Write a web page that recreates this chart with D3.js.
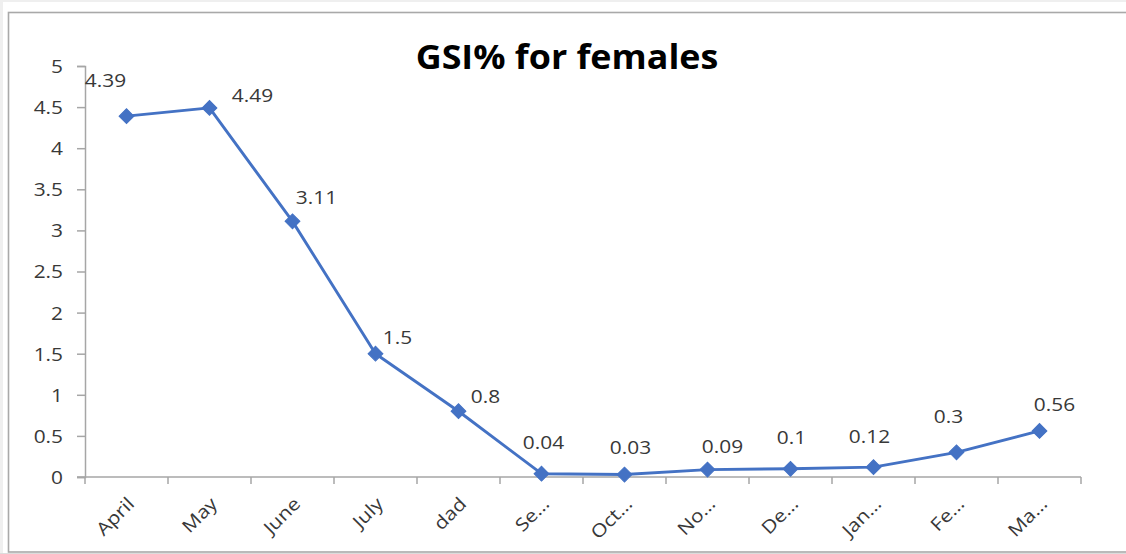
<!DOCTYPE html>
<html>
<head>
<meta charset="utf-8">
<script src="https://cdn.jsdelivr.net/npm/d3@7"></script>
<style>
  html, body { margin: 0; padding: 0; background: #ffffff; }
  svg { display: block; }
  text { font-family: "Open Sans", "Noto Sans", sans-serif; }
</style>
</head>
<body>
<svg id="chart" width="1126" height="554"></svg>
<script>
// Monthly GSI% values for females
const months = ["April", "May", "June", "July", "dad", "Se…", "Oct…", "No…", "De…", "Jan…", "Fe…", "Ma…"];
const gsiValues = [4.39, 4.49, 3.11, 1.5, 0.8, 0.04, 0.03, 0.09, 0.1, 0.12, 0.3, 0.56];
const yTicks = [0, 0.5, 1, 1.5, 2, 2.5, 3, 3.5, 4, 4.5, 5];
const chartTitle = "GSI% for females";
// hand-placed offsets of each value label from its point (dx, dy in px)
const labelNudge = [[-21, -29], [43, -6], [24, -17], [22, -10], [27, -8], [2, -25],
                    [6, -21], [15, -17], [1, -25], [-4, -24], [-8, -29], [15, -20]];

const W = 1126, H = 554;
const svg = d3.select("#chart");
const widen = 1.16;   // labels are drawn slightly wide

// page background and chart frame
svg.append("rect").attr("width", W).attr("height", H).attr("fill", "#efefef");
svg.append("rect").attr("x", 3).attr("y", 2).attr("width", W).attr("height", H).attr("fill", "#ffffff");
svg.append("rect").attr("x", 8.5).attr("y", 12.5).attr("width", W + 10).attr("height", 539.5)
  .attr("fill", "#ffffff").attr("stroke", "#a9a9a9").attr("stroke-width", 1.6);
svg.append("rect").attr("x", 0).attr("y", 553).attr("width", W).attr("height", 1).attr("fill", "#dcdcdc");

const plot = { left: 85, right: 1081, top: 66, bottom: 477 };

const x = d3.scaleBand().domain(months).range([plot.left, plot.right]);
const y = d3.scaleLinear().domain([0, 5]).range([plot.bottom, plot.top]);
const cx = m => x(m) + x.bandwidth() / 2;

const axisColor = "#a6a6a6";
const textColor = "#383838";

// Y axis
const yAxis = svg.append("g").attr("transform", `translate(${plot.left},0)`)
  .call(d3.axisLeft(y).tickValues(yTicks).tickSize(8).tickPadding(0).tickFormat(d3.format("")));
yAxis.select(".domain").attr("stroke", axisColor).attr("stroke-width", 1.5);
yAxis.selectAll(".tick line").attr("stroke", axisColor).attr("stroke-width", 1.5);
yAxis.selectAll(".tick text").remove();
yAxis.selectAll(".tick").append("text")
  .attr("transform", `translate(-22,0) scale(${widen},1)`)
  .attr("text-anchor", "end").attr("dy", "0.36em")
  .attr("fill", textColor).attr("font-size", 18)
  .text(d => d3.format("")(d));

// X axis with ticks on category boundaries
const xAxis = svg.append("g").attr("transform", `translate(0,${plot.bottom})`);
xAxis.append("line").attr("x1", plot.left - 8).attr("x2", plot.right)
  .attr("stroke", axisColor).attr("stroke-width", 1.5);
const bounds = months.map(m => x(m)).concat([plot.right]);
xAxis.selectAll("line.tick").data(bounds).join("line").attr("class", "tick")
  .attr("x1", d => d).attr("x2", d => d).attr("y1", 0).attr("y2", 7)
  .attr("stroke", axisColor).attr("stroke-width", 1.5);
xAxis.selectAll("text").data(months).join("text")
  .attr("transform", m => `translate(${cx(m) + 9},${28}) rotate(-45) scale(${widen},1)`)
  .attr("text-anchor", "end")
  .attr("fill", textColor).attr("font-size", 18)
  .text(m => m);

// Title
svg.append("text")
  .attr("transform", `translate(567,69) scale(1.07,1)`)
  .attr("text-anchor", "middle").attr("font-weight", 700).attr("font-size", 33.5)
  .attr("fill", "#000000").text(chartTitle);

// Line
const lineColor = "#4472C4";
const line = d3.line().x((d, i) => cx(months[i])).y(d => y(d));
svg.append("path").datum(gsiValues).attr("d", line)
  .attr("fill", "none").attr("stroke", lineColor).attr("stroke-width", 2.9)
  .attr("stroke-linejoin", "round");

// Diamond markers
const diamond = d3.symbol().type(d3.symbolSquare).size(110);
svg.selectAll("path.marker").data(gsiValues).join("path").attr("class", "marker")
  .attr("d", diamond)
  .attr("transform", (d, i) => `translate(${cx(months[i])},${y(d)}) rotate(45)`)
  .attr("fill", lineColor).attr("stroke", lineColor).attr("stroke-width", 1);

// Value labels
svg.selectAll("text.value").data(gsiValues).join("text").attr("class", "value")
  .attr("transform", (d, i) => `translate(${cx(months[i]) + labelNudge[i][0]},${y(d) + labelNudge[i][1]}) scale(${widen},1)`)
  .attr("text-anchor", "middle").attr("fill", textColor).attr("font-size", 18)
  .text(d => d);
</script>
</body>
</html>
